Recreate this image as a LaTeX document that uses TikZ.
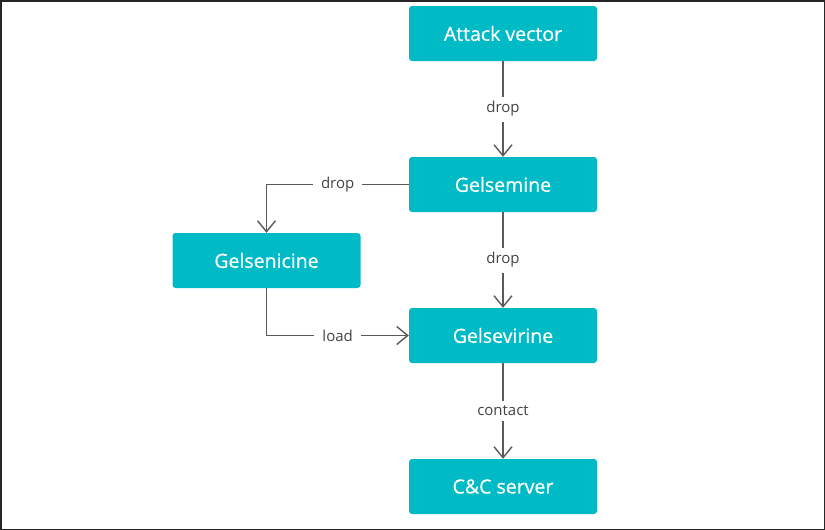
\documentclass[tikz,border=0pt]{standalone}
\usepackage{fontspec}
\setmainfont{Open Sans}
\newfontfamily\stagefont[FakeBold=0.6]{Open Sans}
\usetikzlibrary{arrows.meta}
\definecolor{malwareTeal}{RGB}{0,187,198}
\definecolor{edgeGray}{RGB}{90,90,90}
\definecolor{labelGray}{RGB}{68,68,68}
\tikzset{%
  stage/.style={rectangle, rounded corners=3pt, fill=malwareTeal, text=white, minimum width=188pt, minimum height=55pt, font=\stagefont\fontsize{19.5}{22}\selectfont, align=center},% one malware stage
  %
  action/.style={fill=white, text=labelGray, font=\fontsize{15}{17}\selectfont, inner xsep=8pt, inner ysep=5pt},
  flow/.style={draw=edgeGray, line width=1.4pt, -{Straight Barb[length=11pt,width=18pt]}},
}
\begin{document}
\begin{tikzpicture}[x=1pt,y=-1pt]
    \useasboundingbox (0,0) rectangle (825,530);
    \draw[line width=1.5pt, black!85] (0.75,0.75) rectangle (824.25,529.25);

    \node[stage] (attack) at (503,33.5) {Attack vector};
    \node[stage] (gelsemine) at (503,184.5) {Gelsemine};
    \node[stage] (gelsenicine) at (266.5,260.5) {Gelsenicine};
    \node[stage] (gelsevirine) at (503,335.5) {Gelsevirine};
    \node[stage] (server) at (503,486.5) {C\&C server};

    \draw[flow] (attack) -- node[action]{drop} (gelsemine);
    \draw[flow] (gelsemine.west) -| node[action,pos=0.25]{drop} (gelsenicine.north);
    \draw[flow] (gelsemine) -- node[action]{drop} (gelsevirine);
    \draw[flow] (gelsenicine.south) |- node[action,pos=0.75]{load} (gelsevirine.west);
    \draw[flow] (gelsevirine) -- node[action]{contact} (server);
  \end{tikzpicture}
\end{document}
